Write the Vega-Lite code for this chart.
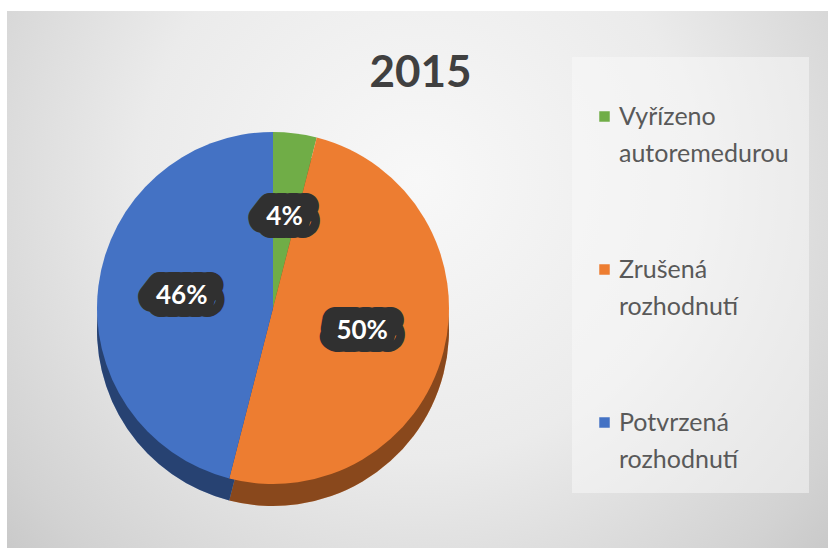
{
  "$schema": "https://vega.github.io/schema/vega-lite/v6.json",
  "autosize": {"type": "none"},
  "width": 821,
  "height": 537,
  "padding": {"left": 7, "top": 11, "right": 0, "bottom": 0},
  "background": "#ffffff",
  "view": {
    "stroke": null,
    "fill": {
      "gradient": "radial",
      "x1": 0.5, "y1": 0.38, "r1": 0,
      "x2": 0.5, "y2": 0.38, "r2": 0.75,
      "stops": [
        {"offset": 0, "color": "#f8f8f8"},
        {"offset": 0.45, "color": "#ebebeb"},
        {"offset": 0.8, "color": "#d2d2d2"},
        {"offset": 1, "color": "#c0c0c0"}
      ]
    }
  },
  "title": {
    "text": "2015",
    "anchor": "middle",
    "frame": "group",
    "orient": "top",
    "offset": -120,
    "baseline": "alphabetic",
    "dx": 3,
    "font": "Lato",
    "fontSize": 44,
    "fontWeight": "bold",
    "color": "#404040"
  },
  "data": {
    "values": [
      {"kategorie": "Vyřízeno autoremedurou", "podil": 4, "popisek": "4%", "poradi": 1},
      {"kategorie": "Zrušená rozhodnutí", "podil": 50, "popisek": "50%", "poradi": 2},
      {"kategorie": "Potvrzená rozhodnutí", "podil": 46, "popisek": "46%", "poradi": 3}
    ]
  },
  "encoding": {
    "theta": {"field": "podil", "type": "quantitative", "stack": true},
    "order": {"field": "poradi", "type": "quantitative"}
  },
  "layer": [
    {
      "mark": {"type": "arc", "outerRadius": 176, "xOffset": -144.5, "yOffset": 50.5},
      "encoding": {
        "color": {
          "field": "kategorie", "type": "nominal",
          "scale": {"domain": ["Vyřízeno autoremedurou", "Zrušená rozhodnutí", "Potvrzená rozhodnutí"], "range": ["#70ad47", "#ed7d31", "#4472c4"]},
          "legend": {
            "orient": "none",
            "legendX": 565,
            "legendY": 46,
            "title": " ",
            "titleFontSize": 14,
            "titlePadding": 13,
            "fillColor": "rgba(250,250,250,0.5)",
            "padding": 20,
            "symbolType": "square",
            "symbolSize": 110,
            "symbolStrokeWidth": 0,
            "labelFont": "Lato",
            "labelFontSize": 25,
            "labelColor": "#595959",
            "labelOffset": 2,
            "labelLimit": 300,
            "rowPadding": 90,
            "labelExpr": "split(datum.label, ' ')",
            "encode": {"labels": {"update": {"lineHeight": {"value": 37}}}}
          }
        }
      }
    },
    {
      "mark": {"type": "arc", "outerRadius": 176, "xOffset": -144.5, "yOffset": 50.5, "fill": "#000000", "fillOpacity": 0.42},
      "encoding": {}
    },
    {
      "mark": {"type": "arc", "outerRadius": 176, "xOffset": -144.5, "yOffset": 28.5},
      "encoding": {
        "color": {"field": "kategorie", "type": "nominal"}
      }
    },
    {
      "mark": {"type": "text", "radius": 92, "xOffset": -144.5, "yOffset": 28.5, "dx": -5, "font": "Lato", "fontSize": 26, "fontWeight": "bold", "fill": "#303030", "stroke": "#303030", "strokeWidth": 26, "strokeJoin": "round", "align": "center", "baseline": "middle"},
      "encoding": {"text": {"field": "popisek"}}
    },
    {
      "mark": {"type": "text", "radius": 92, "xOffset": -144.5, "yOffset": 28.5, "dx": 5, "font": "Lato", "fontSize": 26, "fontWeight": "bold", "fill": "#303030", "stroke": "#303030", "strokeWidth": 26, "strokeJoin": "round", "align": "center", "baseline": "middle"},
      "encoding": {"text": {"field": "popisek"}}
    },
    {
      "mark": {"type": "text", "radius": 92, "xOffset": -144.5, "yOffset": 28.5, "font": "Lato", "fontSize": 26, "fontWeight": "bold", "fill": "#ffffff", "align": "center", "baseline": "middle"},
      "encoding": {"text": {"field": "popisek"}}
    }
  ]
}
